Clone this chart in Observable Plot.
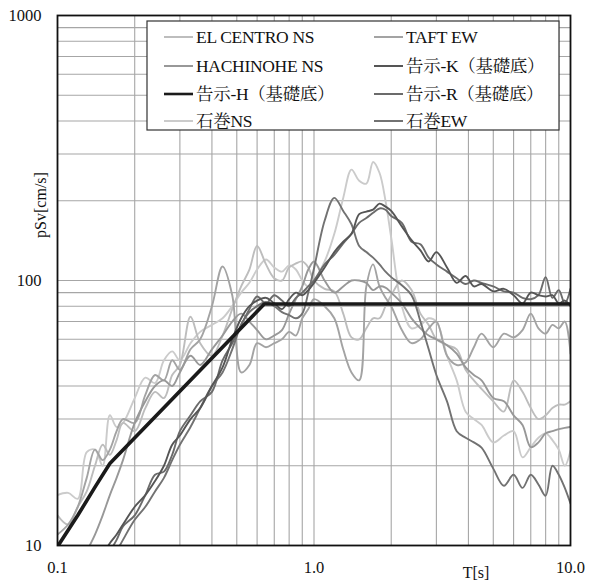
<!DOCTYPE html>
<html><head><meta charset="utf-8">
<script src="https://cdn.jsdelivr.net/npm/d3@7"></script>
<script src="https://cdn.jsdelivr.net/npm/@observablehq/plot@0.6"></script>
<style>
body{margin:0;background:#fff;}
svg text{font-family:"Liberation Serif","Times New Roman",Tinos,"DejaVu Serif","Noto Serif CJK JP","Noto Sans CJK JP",serif !important;}
</style>
</head><body><div id="chart"></div>
<script>
const periods = [0.10,0.11,0.12,0.13,0.14,0.15,0.16,0.17,0.18,0.20,
 0.22,0.24,0.26,0.28,0.30,0.33,0.36,0.40,0.44,0.48,
 0.52,0.56,0.60,0.65,0.70,0.75,0.80,0.85,0.90,0.95,
 1.0,1.1,1.2,1.3,1.4,1.5,1.6,1.7,1.8,1.9,
 2.0,2.2,2.4,2.6,2.8,3.0,3.3,3.6,3.9,4.2,
 4.5,5.0,5.5,6.0,6.5,7.0,7.5,8.0,8.5,9.0,
 9.5,10.0];

const elCentroNS = [13,12,14,16,20,24,22,25,29,27,
 33,38,36,44,48,73,58,52,62,78,
 95,110,135,115,102,100,112,116,118,112,
 100,93,91,75,61,60,66,72,72,80,
 88,100,92,75,68,60,57,55,46,42,
 39,35,32,42,38,33,30,31,33,34,
 34,35];
const taftEW = [11,12,14,18,23,21,23,27,30,29,
 37,44,42,50,46,55,60,80,113,88,
 45,48,58,56,58,60,64,62,72,78,
 85,80,72,55,45,42,95,115,95,86,
 80,65,58,60,66,70,52,48,49,56,
 63,56,63,61,65,75,66,63,68,66,
 70,53];
const hachinoheNS = [7,7.5,8.2,9.5,11,13,15.5,18,21,29,
 35,40,42,40,45,52,48,55,62,70,
 75,70,65,60,62,65,75,85,95,110,
 118,100,90,95,100,100,98,92,95,94,
 90,82,72,66,62,60,57,53,47,44,
 42,36,35,31,28.5,23.5,24.5,26.5,27,27.5,
 27.8,28];
const kokujiK = [5,5.6,6.3,7.2,8.2,9.2,10.2,11,12,14,
 15.5,17.5,20,24,26,30,33,40,47,60,
 72,80,84,86,82,78,85,90,88,92,
 98,112,128,140,150,178,182,185,195,190,
 183,160,142,130,118,128,112,98,104,95,
 97,91,93,88,82,90,88,87,88,82,
 84,80];
const kokujiR = [4.5,5.1,5.8,6.6,7.6,8.6,9.5,10.5,11.8,13,
 15.5,18.5,19,22,27,31,35,38,50,58,
 68,78,87,82,88,84,80,86,90,95,
 100,115,125,138,150,165,172,180,187,185,
 175,165,140,137,122,115,108,102,97,100,
 98,95,91,90,86,85,88,103,86,92,
 82,93];
const ishinomakiNS = [15.5,15.8,15,22.5,23,20,31,28,29,36,
 43,41,50,54,50,58,64,68,72,80,
 90,98,110,120,112,108,114,110,100,95,
 100,118,150,205,262,238,232,280,255,200,
 145,80,66,68,72,70,52,42,32,30,
 28.5,24.5,26,27,21.5,23.5,25.5,26.5,25,23,
 20,22.8];
const ishinomakiEW = [4,4.6,5.3,6,6.8,7.6,8.5,9.5,10.5,12.5,
 14,16,18,21,24,28,33,40,45,55,
 68,76,80,83,80,76,74,72,75,90,
 111,168,205,183,163,135,128,122,115,108,
 103,96,88,70,55,44,35,27,25.5,24.5,
 23.4,19.5,16.8,18.5,16.5,18.5,17,15.4,20,18.5,
 16.5,14.4];
// 告示スペクトル（基礎底）
const kokujiHPeriods = [0.10,0.12,0.14,0.16,0.64,10.0];
const kokujiHValues = [9.9,13.0,16.6,20.4,81.5,81.5];

const seriesNames = ["EL CENTRO NS","TAFT EW","HACHINOHE NS","告示-K（基礎底）","告示-H（基礎底）","告示-R（基礎底）","石巻NS","石巻EW"];
const seriesColors = ["#bdbdbd","#a3a3a3","#989898","#555555","#1a1a1a","#6b6b6b","#cbcbcb","#727272"];
const seriesWidths = [1.9,1.9,1.9,1.9,3.6,1.9,1.9,1.9];

const xTicks = [0.1,1,10];
const xTickLabels = ["0.1","1.0","10.0"];
const yTicks = [10,100,1000];
const yTickLabels = ["10","100","1000"];
const gridX = [0.2,0.3,0.4,0.5,0.6,0.7,0.8,0.9,1,2,3,4,5,6,7,8,9];
const gridY = [20,30,40,50,60,70,80,90,100,200,300,400,500,600,700,800,900];

const seriesValues = {
  "EL CENTRO NS": [periods, elCentroNS],
  "TAFT EW": [periods, taftEW],
  "HACHINOHE NS": [periods, hachinoheNS],
  "告示-K（基礎底）": [periods, kokujiK],
  "告示-H（基礎底）": [kokujiHPeriods, kokujiHValues],
  "告示-R（基礎底）": [periods, kokujiR],
  "石巻NS": [periods, ishinomakiNS],
  "石巻EW": [periods, ishinomakiEW]
};
const drawOrder = ["石巻NS","EL CENTRO NS","TAFT EW","HACHINOHE NS","石巻EW","告示-R（基礎底）","告示-K（基礎底）","告示-H（基礎底）"];

function rowsOf(name){
  const [ts, vs] = seriesValues[name];
  return ts.map((t,i)=>({T:t, V:vs[i], name}));
}

const lineMarks = drawOrder.map(name=>{
  const i = seriesNames.indexOf(name);
  return Plot.line(rowsOf(name), {x:"T", y:"V", stroke: seriesColors[i], strokeWidth: seriesWidths[i],
    curve: name.startsWith("告示-H") ? "linear" : "catmull-rom", clip: true, strokeLinejoin:"round"});
});

const chart = Plot.plot({
  width: 589, height: 581,
  marginLeft: 57, marginRight: 19, marginTop: 15, marginBottom: 36,
  x: {type:"log", domain:[0.1,10]},
  y: {type:"log", domain:[10,1000]},
  style: {fontSize: "16.5px", color:"#111", background:"#fff"},
  marks: [
    Plot.ruleX(gridX, {stroke:"#a6a6a6", strokeWidth:1.1}),
    Plot.ruleY(gridY, {stroke:"#a6a6a6", strokeWidth:1.1}),
    ...lineMarks,
    Plot.frame({stroke:"#111", strokeWidth:1.8}),
    Plot.axisX({ticks:xTicks, tickSize:0, tickPadding:16, label:null, fontSize:16.5,
      tickFormat: d => xTickLabels[xTicks.indexOf(d)]}),
    Plot.axisY({ticks:yTicks, tickSize:0, tickPadding:16, label:null, fontSize:16.5,
      tickFormat: d => yTickLabels[yTicks.indexOf(d)]})
  ]
});
document.getElementById("chart").appendChild(chart);

const svg = d3.select(chart);
// axis titles
svg.append("text").attr("transform","translate(40,205) rotate(-90)")
  .attr("text-anchor","middle").attr("dy","0.35em")
  .style("font-size","16px").attr("fill","#111").text("pSv[cm/s]");
svg.append("text").attr("x",476).attr("y",572).attr("text-anchor","middle").attr("dy","0.35em")
  .style("font-size","16px").attr("fill","#111").text("T[s]");

// legend
const lg = svg.append("g");
lg.append("rect").attr("x",147).attr("y",21).attr("width",412).attr("height",109)
  .attr("fill","#fff").attr("stroke","#333").attr("stroke-width",1.2);
const rowY = [37,66,94,121];
const colX = [164,374];
seriesNames.forEach((name,i)=>{
  const c = i%2, r = Math.floor(i/2);
  const x0 = colX[c], y0 = rowY[r];
  lg.append("line").attr("x1",x0).attr("x2",x0+29).attr("y1",y0).attr("y2",y0)
    .attr("stroke",seriesColors[i]).attr("stroke-width", name.startsWith("告示-H")?2.6:2);
  lg.append("text").attr("x",x0+32).attr("y",y0).attr("dy","0.36em")
    .attr("text-anchor","start")
    .style("font-size","17.5px")
    .style("letter-spacing","-0.3px").attr("fill","#111").text(name);
});
</script></body></html>
